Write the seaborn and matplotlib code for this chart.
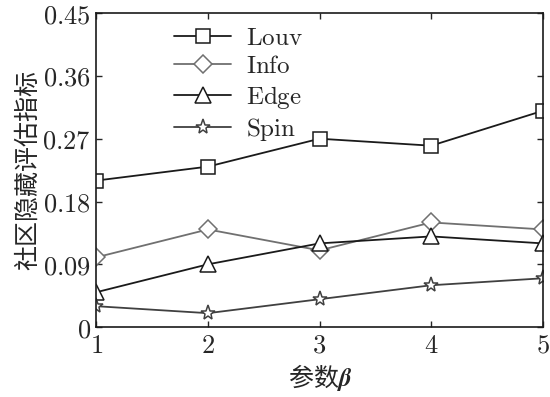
import matplotlib
matplotlib.use("Agg")
import matplotlib.pyplot as plt
import seaborn as sns
import pandas as pd

beta = [1, 2, 3, 4, 5]
louv = [0.21, 0.23, 0.27, 0.26, 0.31]
info = [0.10, 0.14, 0.11, 0.15, 0.14]
edge = [0.05, 0.09, 0.12, 0.13, 0.12]
spin = [0.03, 0.02, 0.04, 0.06, 0.07]
series_names = ["Louv", "Info", "Edge", "Spin"]
yticks = [0, 0.09, 0.18, 0.27, 0.36, 0.45]
ytick_labels = ["0", "0.09", "0.18", "0.27", "0.36", "0.45"]

sns.set_theme(style="ticks")
plt.rcParams['font.family'] = ['DejaVu Serif', 'Noto Sans CJK SC']
plt.rcParams['mathtext.fontset'] = 'cm'

df = pd.DataFrame({
    "beta": beta * 4,
    "value": louv + info + edge + spin,
    "method": sum([[n] * len(beta) for n in series_names], []),
})

fig = plt.figure(figsize=(5.5, 3.97), dpi=100)
ax = fig.add_axes([0.175, 0.176, 0.812, 0.791])

palette = {"Louv": "#1a1a1a", "Info": "#707070", "Edge": "#1a1a1a", "Spin": "#404040"}
markers = {"Louv": "s", "Info": "D", "Edge": "^", "Spin": "*"}
sizes = {"Louv": 10, "Info": 9, "Edge": 11, "Spin": 11}

for name in series_names:
    sub = df[df["method"] == name]
    sns.lineplot(data=sub, x="beta", y="value", ax=ax, color=palette[name],
                 marker=markers[name], markersize=sizes[name], markerfacecolor="white",
                 markeredgecolor=palette[name], markeredgewidth=1.1, linewidth=1.3,
                 label=name)

ax.set_xlim(1, 5)
ax.set_ylim(0, 0.45)
ax.set_xticks(beta)
ax.set_xticklabels([f"${b}$" for b in beta], fontsize=19)
ax.set_yticks(yticks)
ax.set_yticklabels([f"${t}$" for t in ytick_labels], fontsize=19)
ax.tick_params(direction="in", top=True, right=True, length=4, width=1, pad=4)
for s in ax.spines.values():
    s.set_linewidth(1.2)
    s.set_color("#1a1a1a")

ax.set_xlabel("参数$\\boldsymbol{\\beta}$", fontsize=18, family=['Noto Sans CJK SC', 'DejaVu Sans'], labelpad=3)
ax.set_ylabel("社区隐藏评估指标", fontsize=18, family=['Noto Sans CJK SC', 'DejaVu Sans'], labelpad=1)

leg = ax.legend(loc="upper left", bbox_to_anchor=(0.14, 1.005), frameon=False,
                fontsize=18, handlelength=2.3, labelspacing=0.22, borderaxespad=0.2,
                handletextpad=0.6)
leg_labels = [f"$\\mathrm{{{n}}}$" for n in series_names]
for t, l in zip(leg.get_texts(), leg_labels):
    t.set_text(l)

fig.savefig("out.png", dpi=100)
